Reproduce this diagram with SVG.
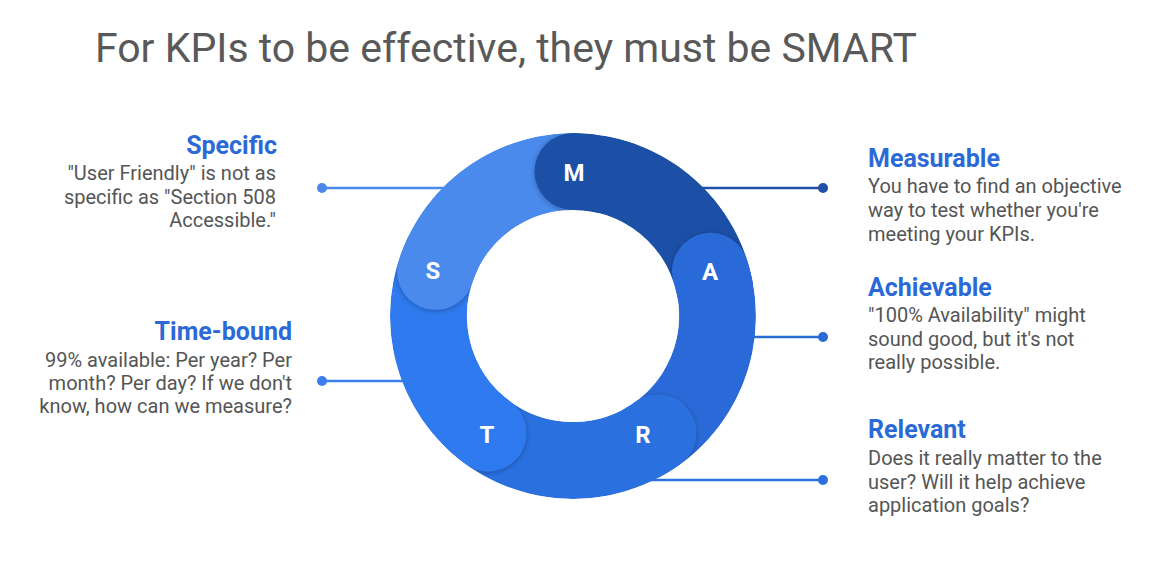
<svg xmlns="http://www.w3.org/2000/svg" width="1165" height="581" viewBox="0 0 1165 581">
<style>
  .title { font-family: Roboto, "Liberation Sans", sans-serif; font-size: 41px; fill: #595959; }
  .head { font-family: Roboto, "Liberation Sans", sans-serif; font-size: 25px; font-weight: bold; fill: #2b6ad6; }
  .body { font-family: Roboto, "Liberation Sans", sans-serif; font-size: 20px; fill: #555555; }
  .letter { font-family: Roboto, "Liberation Sans", sans-serif; font-size: 24px; font-weight: bold; fill: #ffffff; text-anchor: middle; }
  .seg { fill: none; stroke-width: 77; stroke-linecap: butt; }
  .conn { stroke-width: 2.5; fill: none; }
</style>
<defs>
  <filter id="sh" filterUnits="userSpaceOnUse" x="0" y="0" width="1165" height="581">
    <feDropShadow dx="0" dy="1" stdDeviation="2.5" flood-color="#000" flood-opacity="0.3"/>
  </filter>
  <clipPath id="ring">
    <path clip-rule="evenodd" d="M573,133 a183,183 0 1,1 0,366 a183,183 0 1,1 0,-366 Z M573,210 a106,106 0 1,0 0,212 a106,106 0 1,0 0,-212 Z"/>
  </clipPath>
  <clipPath id="mcap">
    <rect x="380" y="120" width="218" height="140"/>
  </clipPath>
</defs>
<rect width="1165" height="581" fill="#ffffff"/>
<text class="title" x="95" y="62">For KPIs to be effective, they must be SMART</text>

<g id="connectors">
  <line class="conn" x1="322" y1="188" x2="480" y2="188" stroke="#4a89ea"/>
  <circle cx="322" cy="188" r="5" fill="#4a89ea"/>
  <line class="conn" x1="322" y1="381" x2="440" y2="381" stroke="#3a7fec"/>
  <circle cx="322" cy="381" r="5" fill="#3a7fec"/>
  <line class="conn" x1="680" y1="188" x2="823" y2="188" stroke="#1f4fa6"/>
  <circle cx="823" cy="188" r="5" fill="#1f4fa6"/>
  <line class="conn" x1="720" y1="337" x2="823" y2="337" stroke="#2a6bd6"/>
  <circle cx="823" cy="337" r="5" fill="#2a6bd6"/>
  <line class="conn" x1="600" y1="480" x2="823" y2="480" stroke="#2d6fdd"/>
  <circle cx="823" cy="480" r="5" fill="#2d6fdd"/>
</g>

<g id="ring-segments" clip-path="url(#ring)">
  <g id="seg-M" filter="url(#sh)">
    <path class="seg" stroke="#1e50a6" d="M573,171.5 A144.5,144.5 0 0 1 715.3,290.9"/>
    <circle cx="573" cy="171.5" r="38.5" fill="#1e50a6"/>
  </g>
  <g id="seg-A" filter="url(#sh)">
    <path class="seg" stroke="#2a6bd8" d="M710.43,271.35 A144.5,144.5 0 0 1 640.8,443.6"/>
    <circle cx="710.43" cy="271.35" r="38.5" fill="#2a6bd8"/>
  </g>
  <g id="seg-R" filter="url(#sh)">
    <path class="seg" stroke="#2c6fde" d="M657.94,432.9 A144.5,144.5 0 0 1 472.6,419.9"/>
    <circle cx="657.94" cy="432.9" r="38.5" fill="#2c6fde"/>
  </g>
  <g id="seg-T" filter="url(#sh)">
    <path class="seg" stroke="#2f7aee" d="M488.06,432.9 A144.5,144.5 0 0 1 443.1,252.6"/>
    <circle cx="488.06" cy="432.9" r="38.5" fill="#2f7aee"/>
  </g>
  <g id="seg-S" filter="url(#sh)">
    <path class="seg" stroke="#4a8aec" d="M435.57,271.35 A144.5,144.5 0 0 1 585.6,172.05"/>
    <circle cx="435.57" cy="271.35" r="38.5" fill="#4a8aec"/>
  </g>
  <g clip-path="url(#mcap)">
    <g filter="url(#sh)">
      <path class="seg" stroke="#1e50a6" d="M573,171.5 A144.5,144.5 0 0 1 645.25,190.9"/>
      <circle cx="573" cy="171.5" r="38.5" fill="#1e50a6"/>
    </g>
  </g>
</g>

<g id="letters">
  <text class="letter" x="574" y="181">M</text>
  <text class="letter" x="710" y="280">A</text>
  <text class="letter" x="643" y="443">R</text>
  <text class="letter" x="487" y="443">T</text>
  <text class="letter" x="433" y="279">S</text>
</g>

<g id="node-specific" text-anchor="end">
  <text class="head" x="277" y="154">Specific</text>
  <text class="body" x="276" y="180">"User Friendly" is not as</text>
  <text class="body" x="276" y="203.5">specific as "Section 508</text>
  <text class="body" x="276" y="227">Accessible."</text>
</g>

<g id="node-timebound" text-anchor="end">
  <text class="head" x="292" y="340">Time-bound</text>
  <text class="body" x="292" y="367">99% available: Per year? Per</text>
  <text class="body" x="292" y="390">month? Per day? If we don't</text>
  <text class="body" x="292" y="413">know, how can we measure?</text>
</g>

<g id="node-measurable">
  <text class="head" x="868" y="167">Measurable</text>
  <text class="body" x="868" y="193">You have to find an objective</text>
  <text class="body" x="868" y="217">way to test whether you're</text>
  <text class="body" x="868" y="241">meeting your KPIs.</text>
</g>

<g id="node-achievable">
  <text class="head" x="868" y="296">Achievable</text>
  <text class="body" x="868" y="322">"100% Availability" might</text>
  <text class="body" x="868" y="346">sound good, but it's not</text>
  <text class="body" x="868" y="369">really possible.</text>
</g>

<g id="node-relevant">
  <text class="head" x="868" y="438">Relevant</text>
  <text class="body" x="868" y="465">Does it really matter to the</text>
  <text class="body" x="868" y="489">user? Will it help achieve</text>
  <text class="body" x="868" y="512">application goals?</text>
</g>
</svg>
